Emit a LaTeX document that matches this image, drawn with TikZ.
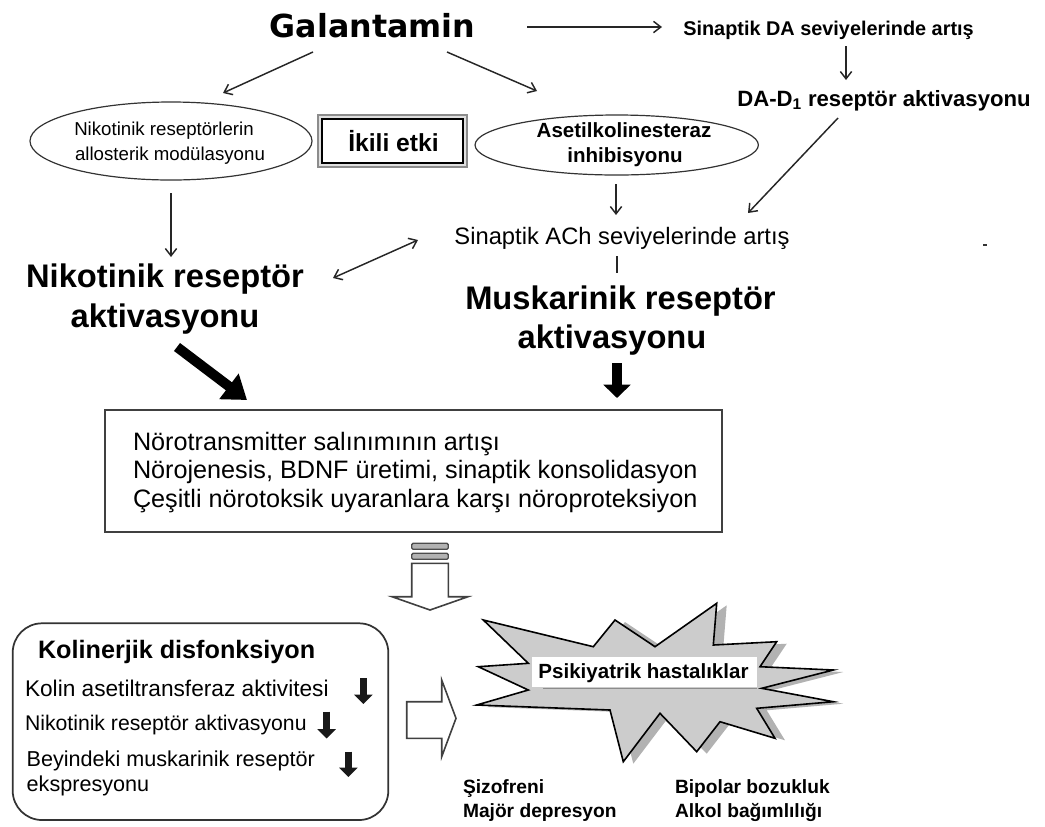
\documentclass[tikz,border=0pt]{standalone}
\usepackage{fontspec}
\setmainfont{Liberation Sans}
\newfontfamily\djv{DejaVu Sans}
\usetikzlibrary{arrows.meta,shapes.geometric}
\newcommand\myfs[1]{\fontsize{#1}{1.2\dimexpr #1\relax}\selectfont}
\begin{document}
\begin{tikzpicture}[x=0.75pt,y=-0.75pt,
  txt/.style={inner sep=0pt, outer sep=0pt, anchor=base},
  txtw/.style={inner sep=0pt, outer sep=0pt, anchor=base west},
  arr/.style={draw=black!85, line width=1.1pt, -{Straight Barb[length=5.5pt,width=8.5pt]}},
  darr/.style={draw=black!85, line width=1.1pt, {Straight Barb[length=5.5pt,width=8.5pt]}-{Straight Barb[length=5.5pt,width=8.5pt]}},
  bigarr/.style={draw=black, line width=7.5pt, -{Triangle[length=17pt,width=23pt]}},
  midarr/.style={draw=black, line width=7.5pt, -{Triangle[length=10pt,width=20pt]}},
  smallarr/.style={draw=black!90, line width=5.5pt, -{Triangle[length=7pt,width=13.5pt]}},
  hollow/.style={draw=black!75, line width=1.2pt, fill=white, line join=miter},
  oval/.style={draw=black!80, line width=0.9pt, ellipse, inner sep=0pt}
]
\useasboundingbox (0,0) rectangle (1045,826);

% ---------- top ----------
\node[txt] (gal) at (372.5,37) {\djv\bfseries\myfs{23.8pt}Galantamin};
\node[txt] (da) at (828.5,35) {\bfseries\myfs{14.9pt}Sinaptik DA seviyelerinde artış};
\node[txt] (dad1) at (884,106) {\bfseries\myfs{16.6pt}DA-D\textsubscript{1} reseptör aktivasyonu};

% left ellipse
\node[oval, minimum width=211.5pt, minimum height=58.5pt] (e1) at (171,141) {};
\node[txt] (e1a) at (164,135) {\myfs{14pt}Nikotinik reseptörlerin};
\node[txt] (e1b) at (170,160) {\myfs{14pt}allosterik modülasyonu};

% ikili etki box
\node[draw=black!45, fill=black!12, line width=1.1pt, minimum width=111.75pt, minimum height=39pt, inner sep=0pt] (ikb) at (392.5,141) {};
\node[draw=black, fill=white, line width=1.1pt, minimum width=105.75pt, minimum height=33pt, inner sep=0pt] (iki) at (392.5,141) {};
\node[txt] (ikt) at (393.5,151.5) {\bfseries\myfs{18.5pt}İkili etki};

% right ellipse
\node[oval, minimum width=212.5pt, minimum height=45pt] (e2) at (616.7,145) {};
\node[txt] (e2a) at (624,137) {\bfseries\myfs{15.4pt}Asetilkolinesteraz};
\node[txt] (e2b) at (625,162) {\bfseries\myfs{15.4pt}inhibisyonu};

% ACh
\node[txt] (ach) at (622,244) {\myfs{17.8pt}Sinaptik ACh seviyelerinde artış};
\draw[black!80, line width=0.8pt] (983,245) -- (987,245);

% receptor activations
\node[txt] (nik1) at (165,287) {\bfseries\myfs{24.5pt}Nikotinik reseptör};
\node[txt] (nik2) at (165,327) {\bfseries\myfs{24.5pt}aktivasyonu};
\node[txt] (mus1) at (620.5,309) {\bfseries\myfs{24.5pt}Muskarinik reseptör};
\node[txt] (mus2) at (612,348) {\bfseries\myfs{24.5pt}aktivasyonu};

% connector coordinates
\coordinate (g1) at (313,52);  \coordinate (g1e) at (223,93);
\coordinate (g2) at (447,52);  \coordinate (g2e) at (537,91);
\coordinate (g3) at (527,27);  \coordinate (g3e) at (662,27);
\coordinate (d1) at (846,46);  \coordinate (d1e) at (846,80);
\coordinate (d2) at (838,118); \coordinate (d2e) at (748,213);
\coordinate (a1) at (616,184); \coordinate (a1e) at (616,215);
\coordinate (n1) at (171,193); \coordinate (n1e) at (171,257);
\coordinate (x1) at (333,278); \coordinate (x1e) at (418,240);
\coordinate (m1) at (617,256); \coordinate (m1e) at (617,273);

\draw[arr] (g1) -- (g1e);
\draw[arr] (g2) -- (g2e);
\draw[arr] (g3) -- (g3e);
\draw[arr] (d1) -- (d1e);
\draw[arr] (d2) -- (d2e);
\draw[arr] (a1) -- (a1e);
\draw[arr] (n1) -- (n1e);
\draw[darr] (x1) -- (x1e);
\draw[black!85, line width=1.3pt] (m1) -- (m1e);

% ---------- middle box ----------
\draw[black!75, line width=1.6pt] (105,410) rectangle (722,532);
\node[txtw] (b1) at (133,450) {\myfs{18.9pt}Nörotransmitter salınımının artışı};
\node[txtw] (b2) at (133,478.5) {\myfs{18.9pt}Nörojenesis, BDNF üretimi, sinaptik konsolidasyon};
\node[txtw] (b3) at (133,507) {\myfs{18.9pt}Çeşitli nörotoksik uyaranlara karşı nöroproteksiyon};

\coordinate (na) at (177,347); \coordinate (nae) at (247,400);
\coordinate (ma) at (617,363); \coordinate (mae) at (617,398);
\draw[bigarr] (na) -- (nae);
\draw[midarr] (ma) -- (mae);

% hollow down arrow with stripes
\draw[draw=black!70, fill=black!30, line width=1pt, rounded corners=1pt] (411.7,543.3) rectangle (448.3,549.3);
\draw[draw=black!70, fill=black!30, line width=1pt, rounded corners=1pt] (411.7,553.3) rectangle (448.3,559.3);
\draw[hollow] (411.7,563.3) -- (411.7,596.7) -- (392,596.7) -- (430,610) -- (468,596.7) -- (448.3,596.7) -- (448.3,563.3) -- cycle;

% ---------- bottom-left box ----------
\draw[black!80, line width=1.3pt, rounded corners=22pt] (12.7,623.3) rectangle (388.3,820);
\node[txtw] (k0) at (38,658) {\bfseries\myfs{18.9pt}Kolinerjik disfonksiyon};
\node[txtw] (k1) at (25,696) {\myfs{17pt}Kolin asetiltransferaz aktivitesi};
\node[txtw] (k2) at (25,730) {\myfs{15.9pt}Nikotinik reseptör aktivasyonu};
\node[txtw] (k3) at (26.7,766.7) {\myfs{16.2pt}Beyindeki muskarinik reseptör};
\node[txtw] (k4) at (26.7,791.7) {\myfs{16.2pt}ekspresyonu};
\coordinate (s1a) at (363.3,678); \coordinate (s1b) at (363.3,704);
\coordinate (s2a) at (326.7,711.7); \coordinate (s2b) at (326.7,738.5);
\coordinate (s3a) at (348.3,751.7); \coordinate (s3b) at (348.3,777);
\draw[smallarr] (s1a) -- (s1b);
\draw[smallarr] (s2a) -- (s2b);
\draw[smallarr] (s3a) -- (s3b);

% hollow right arrow
\draw[hollow] (406.7,701.7) -- (441.7,701.7) -- (441.7,680) -- (456,718.3) -- (441.7,756.7) -- (441.7,738.3) -- (406.7,738.3) -- cycle;

% ---------- star ----------
\begin{scope}[shift={(10,2)}]
\fill[black!30] (483.3,620) -- (593.3,646.7) -- (615,620) -- (655,646.7) -- (716.7,603.3) -- (713.3,645) -- (776.7,641.7) -- (760,666.7) -- (833.3,670) -- (761.7,688.3) -- (833.3,701.7) -- (756.7,708.3) -- (775,738.3) -- (720,721.7) -- (696.7,751.7) -- (660,713.3) -- (623.3,761.7) -- (610,710) -- (476.7,705) -- (528.3,690) -- (478.3,666.7) -- (528.3,663.3) -- cycle;
\end{scope}
\draw[black, fill=black!20, line width=1.2pt, line join=miter] (483.3,620) -- (593.3,646.7) -- (615,620) -- (655,646.7) -- (716.7,603.3) -- (713.3,645) -- (776.7,641.7) -- (760,666.7) -- (833.3,670) -- (761.7,688.3) -- (833.3,701.7) -- (756.7,708.3) -- (775,738.3) -- (720,721.7) -- (696.7,751.7) -- (660,713.3) -- (623.3,761.7) -- (610,710) -- (476.7,705) -- (528.3,690) -- (478.3,666.7) -- (528.3,663.3) -- cycle;
\fill[white] (531.7,657) rectangle (757,687);
\draw[black!45, line width=1.2pt] (543,688.5) -- (757,688.5);
\node[txt] (psi) at (643.5,678) {\bfseries\myfs{15.4pt}Psikiyatrik hastalıklar};

\node[txtw] (z1) at (463,793) {\bfseries\myfs{14.4pt}Şizofreni};
\node[txtw] (z2) at (463,817) {\bfseries\myfs{14.4pt}Majör depresyon};
\node[txtw] (z3) at (675,793) {\bfseries\myfs{14.4pt}Bipolar bozukluk};
\node[txtw] (z4) at (675,817) {\bfseries\myfs{14.4pt}Alkol bağımlılığı};
\end{tikzpicture}
\end{document}
